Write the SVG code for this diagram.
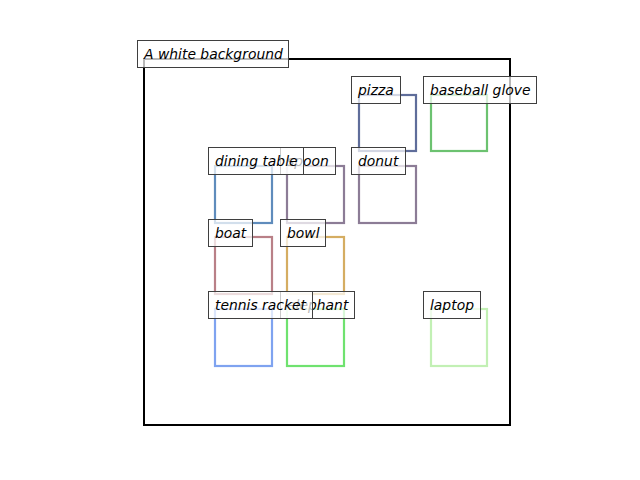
<svg xmlns="http://www.w3.org/2000/svg" width="640" height="480" viewBox="0 0 640 480">
<style>
.obj{fill:none;stroke-width:2.2}
.lb rect{fill:#ffffff;fill-opacity:0.72;stroke:#3f3f3f;stroke-width:1}
.lb text{font-family:"DejaVu Sans",sans-serif;font-style:italic;font-size:13.9px;fill:#000}
</style>
<rect width="640" height="480" fill="#ffffff"/>
<g id="frame"><rect x="144" y="59" width="366" height="366" fill="none" stroke="#000" stroke-width="2"/></g>
<g id="connectors"></g>
<g id="boxes">
<rect id="pizza-box" class="obj" x="359" y="95" width="57" height="56" stroke="#5f6d9a"/>
<rect id="glove-box" class="obj" x="431" y="95" width="56" height="56" stroke="#6cc270"/>
<rect id="dining-box" class="obj" x="215" y="166" width="57" height="57" stroke="#5f8cbc"/>
<rect id="spoon-box" class="obj" x="287" y="166" width="57" height="57" stroke="#8c7c96"/>
<rect id="donut-box" class="obj" x="359" y="166" width="57" height="57" stroke="#8c7c96"/>
<rect id="boat-box" class="obj" x="215" y="237" width="57" height="57" stroke="#b98087"/>
<rect id="bowl-box" class="obj" x="287" y="237" width="57" height="57" stroke="#d5ad62"/>
<rect id="tennis-box" class="obj" x="215" y="309" width="57" height="57" stroke="#7fa3f0"/>
<rect id="elephant-box" class="obj" x="287" y="309" width="57" height="57" stroke="#6fe26f"/>
<rect id="laptop-box" class="obj" x="431" y="309" width="56" height="57" stroke="#c2f0b4"/>
</g>
<g id="title" class="lb"><rect x="137.5" y="40.5" width="151" height="27"/><text x="144" y="58.5">A white background</text></g>
<g id="pizza" class="lb"><rect x="351.5" y="76.5" width="49" height="27"/><text x="358" y="94.5">pizza</text></g>
<g id="baseball-glove" class="lb"><rect x="423.5" y="76.5" width="113" height="27"/><text x="430" y="94.5">baseball glove</text></g>
<g id="spoon" class="lb"><rect x="280.5" y="147.5" width="55" height="27"/><text x="287" y="165.5">spoon</text></g>
<g id="dining-table" class="lb"><rect x="208.5" y="147.5" width="95" height="27"/><text x="215" y="165.5">dining table</text></g>
<g id="donut" class="lb"><rect x="351.5" y="147.5" width="54" height="27"/><text x="358" y="165.5">donut</text></g>
<g id="boat" class="lb"><rect x="208.5" y="219.5" width="44" height="27"/><text x="215" y="237.5">boat</text></g>
<g id="bowl" class="lb"><rect x="280.5" y="219.5" width="45" height="27"/><text x="287" y="237.5">bowl</text></g>
<g id="elephant" class="lb"><rect x="280.5" y="291.5" width="74" height="27"/><text x="287" y="309.5">elephant</text></g>
<g id="tennis-racket" class="lb"><rect x="208.5" y="291.5" width="104" height="27"/><text x="215" y="309.5">tennis racket</text></g>
<g id="laptop" class="lb"><rect x="423.5" y="291.5" width="57" height="27"/><text x="430" y="309.5">laptop</text></g>
</svg>
